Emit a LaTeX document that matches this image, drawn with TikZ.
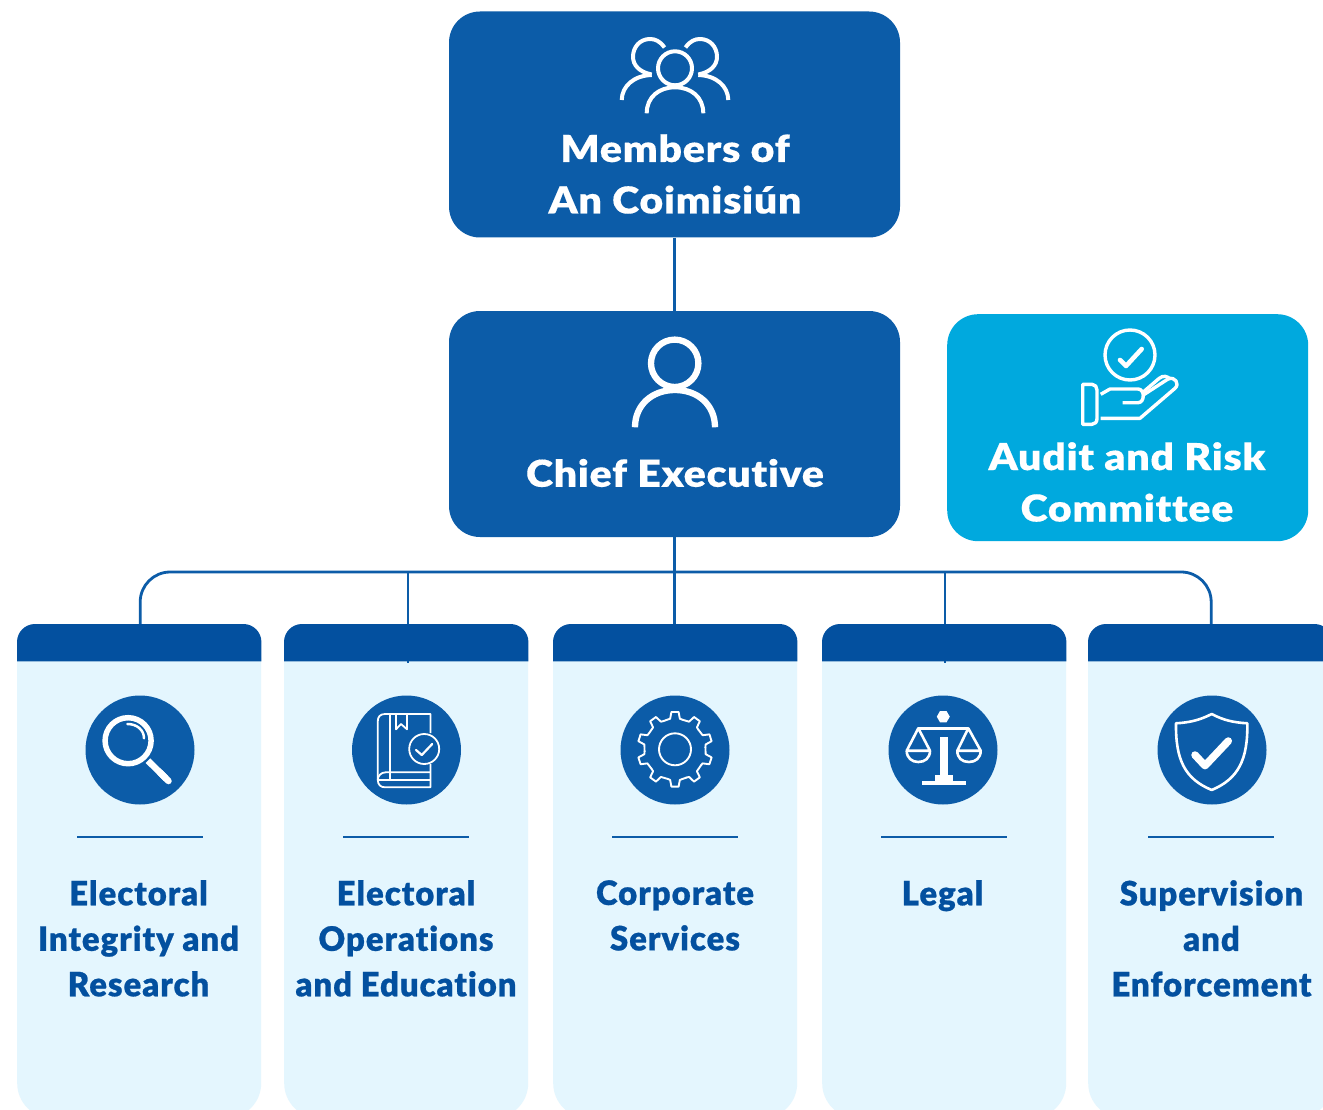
\documentclass[tikz,border=0pt]{standalone}
\usepackage{fontspec}
\setmainfont{Lato}
\newfontfamily\headfont{Lato}[UprightFont=* Black,FakeStretch=1.11,LetterSpace=2,Ligatures=NoCommon,FakeBold=0.3]
\newfontfamily\cardfont{Lato}[UprightFont=* Black,FakeStretch=0.98,LetterSpace=3,Ligatures=NoCommon,FakeBold=0.7]
\definecolor{boxblue}{HTML}{0C5CA8}
\definecolor{headblue}{HTML}{03509F}
\definecolor{paleblue}{HTML}{E4F6FE}
\definecolor{cyanbox}{HTML}{00A9DE}
\tikzset{
  x=1pt,y=-1pt,
  topbox/.style={draw=none,fill=boxblue,rounded corners=31pt,inner sep=0pt,minimum width=451pt,minimum height=226pt},
  auditbox/.style={draw=none,fill=cyanbox,rounded corners=31pt,inner sep=0pt,minimum width=361pt,minimum height=227pt},
  cardbody/.style={draw=none,fill=paleblue,rounded corners=35pt,inner sep=0pt,minimum width=244pt,minimum height=492pt},
  cardhead/.style={draw=none,inner sep=0pt,minimum width=244pt,minimum height=37pt},
  iconcircle/.style={circle,draw=none,fill=boxblue,inner sep=0pt,minimum size=109pt},
  headtext/.style={text=white,font=\headfont\fontsize{37}{51.5}\selectfont,align=center,inner sep=0pt},
  cardtext/.style={text=headblue,font=\cardfont\fontsize{33.5}{45.5}\selectfont,align=center,inner sep=0pt,anchor=north},
  conn/.style={draw=boxblue,line width=2.8pt},
  rulebar/.style={draw=boxblue,line width=2.8pt},
  ico/.style={draw=white,line width=#1,line join=round},
  ico/.default=3pt,
}
\newcommand{\carditem}[8]{%
  \node[cardbody,anchor=north west] (body#1) at (#2,626) {};
  \node[iconcircle] (icon#1) at (#3,750) {};
  \draw[rulebar] (#4,837) -- ++(126,0);
  \node[cardtext] (label#1) at (#5,#8) {#6};
}
\begin{document}
\begin{tikzpicture}
\useasboundingbox (0,0) rectangle (1323,1110);
\clip (0,0) rectangle (1323,1110);
\fill[white] (0,0) rectangle (1323,1110);

% boxes
\node[topbox] (members) at (674.5,124.5) {};
\node[topbox] (chief) at (674.5,424) {};
\node[auditbox,anchor=north west] (audit) at (947,314) {};
\draw[conn] (members.south) -- (chief.north);

\node[headtext] (tmembers) at (675,174) {Members of\\An Coimisiún};
\node[headtext] (tchief) at (675,473) {Chief Executive};
\node[headtext] (taudit) at (1127,482) {Audit and Risk\\Committee};

% cards
\carditem{1}{17}{140}{77}{138.5}{Electoral\\Integrity and\\Research}{}{880}
\carditem{2}{284}{406.5}{343}{406}{Electoral\\Operations\\and Education}{}{880}
\carditem{3}{553}{675}{612}{675}{Corporate\\Services}{}{880}
\carditem{4}{822}{943}{881}{942.5}{Legal}{}{880}
\carditem{5}{1088}{1212}{1148}{1211.5}{Supervision\\and\\Enforcement}{}{880}

% card heads
\node[cardhead,anchor=north west] (h1) at (17,624) {};
\node[cardhead,anchor=north west] (h2) at (284,624) {};
\node[cardhead,anchor=north west] (h3) at (553,624) {};
\node[cardhead,anchor=north west] (h4) at (822,624) {};
\node[cardhead,anchor=north west] (h5) at (1088,624) {};

% connectors
\coordinate (busY) at (0,572);
\coordinate (j2) at (408,572);
\coordinate (j4) at (945,572);
\draw[conn] (chief.south) -- (chief.south |- h3.north);
\draw[conn,rounded corners=30pt] ([xshift=1pt]h1.north) -- ([xshift=1pt]h1.north |- busY) -- ([xshift=1pt]h5.north |- busY) -- ([xshift=1pt]h5.north);
\draw[conn] (j2) -- ([yshift=-1.5pt]j2 |- h2.south);
\draw[conn] (j4) -- ([yshift=-1.5pt]j4 |- h4.south);

\foreach \h in {h1,h2,h3,h4,h5}{
  \fill[headblue] (\h.south west) [rounded corners=18pt] -- (\h.north west) -- (\h.north east) [sharp corners] -- (\h.south east) -- cycle;
}

% members icon
\begin{scope}[ico=4pt]
  \draw (675,68.3) circle (17);
  \draw (646.7,113.3) .. controls (646.7,97) and (659,87.3) .. (675,87.3) .. controls (691,87.3) and (703.3,97) .. (703.3,113.3);
  \draw (664.5,47.5) .. controls (660,41) and (655,39) .. (650,39) .. controls (640,39) and (633,47) .. (633,56.7) .. controls (633,65) and (639,72) .. (651.7,74.5);
  \draw (621.7,100) .. controls (622,86) and (634,75.5) .. (651.7,75);
  \draw (685.5,47.5) .. controls (690,41) and (695,39) .. (700,39) .. controls (710,39) and (717,47) .. (717,56.7) .. controls (717,65) and (711,72) .. (698.3,74.5);
  \draw (728.3,100) .. controls (728,86) and (716,75.5) .. (698.3,75);
\end{scope}

% chief icon
\begin{scope}[ico=6.3pt]
  \draw (674.7,363.3) circle (23.7);
  \draw (635,427.3) .. controls (635,405) and (652,390) .. (675,390) .. controls (698,390) and (715,405) .. (715,427.3);
\end{scope}

% audit icon
\begin{scope}[ico=3.4pt]
  \draw (1130,355) circle (25);
  \draw[line width=4.6pt,line cap=round] (1120,360) -- (1126,366) -- (1141.7,349);
  \draw (1082.7,384.3) -- (1092,384.3) .. controls (1095,384.3) and (1097,387) .. (1097,390) -- (1097,418.5) .. controls (1097,422) and (1095,424.3) .. (1092,424.3) -- (1082.7,424.3) -- cycle;
  \draw (1100.7,394.3) -- (1110,389) -- (1138,389) .. controls (1145,389) and (1145,402.7) .. (1138,402.7) -- (1122.7,402.7);
  \draw (1100.7,418.3) -- (1140,418.3) -- (1175,388.3) .. controls (1180,384) and (1175,376) .. (1168,379) -- (1143.3,395);
  \draw (1143.3,392) -- (1159,378.5) .. controls (1163,375) and (1168,376) .. (1170,379.5);
\end{scope}

% magnifier
\begin{scope}[ico=5.5pt]
  \draw (128.1,740.7) circle (23);
  \draw[line width=2.5pt,line cap=round] (127.4,724) .. controls (137,724) and (144,730) .. (144,738.3);
  \draw[line width=6.5pt] (148,760.7) -- (166,778.5);
  \draw[line width=6.5pt,line cap=round] (160,772.5) -- (168.5,781);
\end{scope}

% book
\begin{scope}[ico=1.8pt]
  \draw (430.4,733) -- (430.4,714) -- (385,714) .. controls (380,714) and (377.8,717) .. (377.8,721) -- (377.8,780) .. controls (377.8,785) and (381,787.3) .. (385,787.3) -- (430.4,787.3) -- (430.4,764);
  \draw (389.8,714) -- (389.8,780);
  \draw (396,714) -- (396,729.3) -- (401,724) -- (407,729.3) -- (407,714);
  \draw (430.4,772.3) -- (385.7,772.3) .. controls (381,772.3) and (377.8,776) .. (377.8,780);
  \draw (377.8,780) -- (430.4,780);
  \draw (424.2,749) circle (15);
  \draw[line width=2.2pt,line cap=round] (416,750) -- (421.8,755) -- (432.2,744);
\end{scope}

% gear
\begin{scope}[shift={(675,749.3)},ico=1.9pt]
  \draw (0,0) circle (16);
  \foreach \a in {0,36,...,324}{
    \draw[line cap=round] (\a-4:30.5) -- (\a+9:31) -- (\a+12.5:37.5) -- (\a+23.5:37.5) -- (\a+27:31) -- (\a+32:30.5);
  }
\end{scope}

% scales
\begin{scope}[ico=2.6pt]
  \fill[white] (949.8,716.7) -- (946.5,722.3) -- (940,722.3) -- (936.8,716.7) -- (940,711) -- (946.5,711) -- cycle;
  \draw[line width=3.2pt] (918.3,728.3) -- (968.3,728.3);
  \fill[white] (940,736.7) rectangle (947.7,775);
  \fill[white] (935,775) rectangle (952.7,781.5);
  \fill[white] (921.7,781) rectangle (965.7,784.6);
  \draw (906.7,750.7) -- (918.3,728.3) -- (930,750.7) -- cycle;
  \draw (906.7,750.7) .. controls (906.7,758) and (912,762) .. (918.3,762) .. controls (925,762) and (930,758) .. (930,750.7);
  \draw (957.3,750.7) -- (968.3,728.3) -- (980.7,750.7) -- cycle;
  \draw (957.3,750.7) .. controls (957.3,758) and (962,762) .. (969,762) .. controls (975.5,762) and (980.7,758) .. (980.7,750.7);
\end{scope}

% shield
\begin{scope}[ico=2.6pt]
  \draw (1211.7,714) .. controls (1200,720) and (1190,722.5) .. (1176,723.3) .. controls (1175.5,760) and (1185,779) .. (1211.7,790) .. controls (1238,779) and (1248,760) .. (1247.3,723.3) .. controls (1233,722.5) and (1223,720) .. (1211.7,714) -- cycle;
  \draw[line width=7.5pt,line cap=round] (1195,755) -- (1205,765.7) -- (1228.3,741);
\end{scope}
\end{tikzpicture}
\end{document}
